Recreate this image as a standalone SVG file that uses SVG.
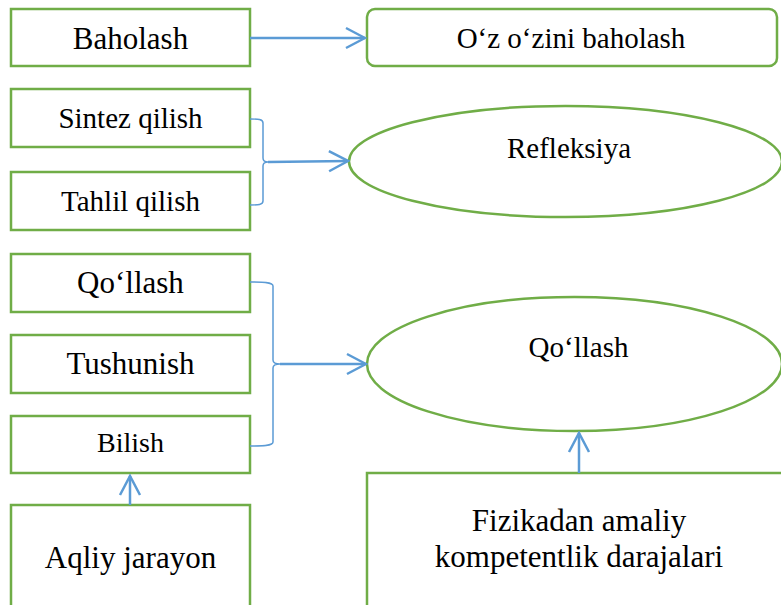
<svg xmlns="http://www.w3.org/2000/svg" width="781" height="605" viewBox="0 0 781 605">
<style>
.box{fill:#fff;stroke:#70AD47;stroke-width:2.5}
.t{font-family:"Liberation Serif","Times New Roman",serif;fill:#000;text-anchor:middle}
.c{fill:none;stroke:#5B9BD5;stroke-width:2.5}
.br{fill:none;stroke:#5B9BD5;stroke-width:1.5}
</style>
<defs>
<marker id="ah" markerUnits="userSpaceOnUse" viewBox="-22 -12 24 24" refX="0" refY="0" markerWidth="24" markerHeight="24" orient="auto">
<path d="M-19,-10 L0,0 L-19,10" fill="none" stroke="#5B9BD5" stroke-width="2.5"/>
</marker>
</defs>
<rect width="781" height="605" fill="#fff"/>
<g id="n-baholash"><rect class="box" x="11" y="9" width="239" height="57"/><text class="t" x="130.5" y="49" font-size="31">Baholash</text></g>
<g id="n-ozbaholash"><rect class="box" x="367" y="9" width="410" height="57" rx="8"/><text class="t" x="571" y="48" font-size="29">O‘z o‘zini baholash</text></g>
<g id="n-sintez"><rect class="box" x="11" y="89" width="239" height="58"/><text class="t" x="130.5" y="128" font-size="29">Sintez qilish</text></g>
<g id="n-tahlil"><rect class="box" x="11" y="172" width="239" height="58"/><text class="t" x="130.5" y="211" font-size="29">Tahlil qilish</text></g>
<g id="n-refleksiya"><ellipse class="box" cx="565.5" cy="161.5" rx="216.5" ry="55.5"/><text class="t" x="569" y="158" font-size="29">Refleksiya</text></g>
<g id="n-qollash1"><rect class="box" x="11" y="254" width="239" height="58"/><text class="t" x="130.5" y="293" font-size="31">Qo‘llash</text></g>
<g id="n-tushunish"><rect class="box" x="11" y="335" width="239" height="58"/><text class="t" x="130.5" y="374" font-size="31">Tushunish</text></g>
<g id="n-bilish"><rect class="box" x="11" y="416" width="239" height="57"/><text class="t" x="130.5" y="452" font-size="28">Bilish</text></g>
<g id="n-aqliy"><rect class="box" x="11" y="505" width="239" height="120"/><text class="t" x="130.5" y="568" font-size="31">Aqliy jarayon</text></g>
<g id="n-qollash2"><ellipse class="box" cx="574.5" cy="364" rx="207.5" ry="67"/><text class="t" x="578.5" y="357" font-size="29">Qo‘llash</text></g>
<g id="n-fizika"><rect class="box" x="367" y="473" width="440" height="150"/><text class="t" x="579" y="531" font-size="31">Fizikadan amaliy</text><text class="t" x="579" y="567" font-size="31">kompetentlik darajalari</text></g>
<g id="connectors">
<line class="c" x1="250" y1="38" x2="365" y2="38" marker-end="url(#ah)"/>
<path class="br" d="M250,119 C258,119 263,119 263,123 L263,158 C263,161 265,162 268,162 C265,162 263,163 263,166 L263,201 C263,205 258,205 250,205"/>
<line class="c" x1="268" y1="162" x2="348" y2="161" marker-end="url(#ah)"/>
<path class="br" d="M250,282 C262,282 273,282 273,286 L273,360 C273,363 276,364 280,364 C276,364 273,365 273,368 L273,442 C273,446 262,446 250,446"/>
<line class="c" x1="280" y1="364" x2="366" y2="364" marker-end="url(#ah)"/>
<line class="c" x1="130" y1="505" x2="130" y2="476" marker-end="url(#ah)"/>
<line class="c" x1="579" y1="473" x2="579" y2="433" marker-end="url(#ah)"/>
</g>
</svg>
